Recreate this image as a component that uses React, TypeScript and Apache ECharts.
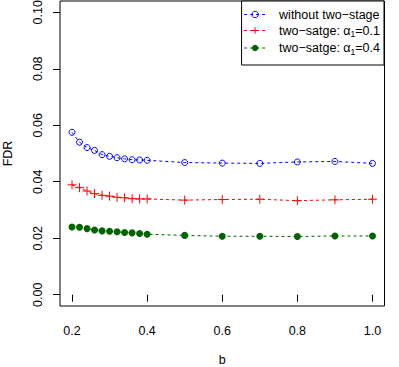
import React, { useEffect, useRef } from "react";
import * as echarts from "echarts";

const bValues = [0.2, 0.22, 0.24, 0.26, 0.28, 0.3, 0.32, 0.34, 0.36, 0.38, 0.4, 0.5, 0.6, 0.7, 0.8, 0.9, 1.0];
const withoutTwoStage = [0.0575, 0.054, 0.0521, 0.0511, 0.0496, 0.049, 0.0485, 0.0481, 0.0478, 0.0477, 0.0476, 0.0468, 0.0466, 0.0465, 0.047, 0.0472, 0.0465];
const twoStage01 = [0.0389, 0.0379, 0.0367, 0.0358, 0.0352, 0.0349, 0.0345, 0.0343, 0.034, 0.0339, 0.0339, 0.0335, 0.0337, 0.0338, 0.0333, 0.0336, 0.0338];
const twoStage04 = [0.024, 0.0239, 0.0234, 0.0229, 0.0226, 0.0225, 0.0223, 0.022, 0.0219, 0.0217, 0.0214, 0.021, 0.0207, 0.0207, 0.0206, 0.0208, 0.0208];
const xTicks = [0.2, 0.4, 0.6, 0.8, 1.0];
const yTicks = [0, 0.02, 0.04, 0.06, 0.08, 0.1];
const seriesNames = ["without two\u2212stage", "two\u2212satge: \u03b1{sub|1}=0.1", "two\u2212satge: \u03b1{sub|1}=0.4"];

const FONT = "'Liberation Sans', Arial, sans-serif";
const FS = 12.5;

export default function App() {
  const ref = useRef<HTMLDivElement>(null);
  useEffect(() => {
    if (!ref.current) return;
    const chart = echarts.init(ref.current, null, { renderer: "svg" });
    const pair = (ys: number[]) => bValues.map((b, i) => [b, ys[i]]);
    chart.setOption({
      animation: false,
      backgroundColor: "#fff",
      grid: {
        left: 60,
        right: 14.5,
        top: 1,
        bottom: 61,
        show: true,
        borderColor: "#000",
        borderWidth: 1,
        containLabel: false,
        outerBoundsMode: "none",
      },
      legend: {
        orient: "vertical",
        right: 15,
        top: 1,
        backgroundColor: "#fff",
        borderColor: "#000",
        borderWidth: 1,
        borderRadius: 0,
        padding: [7, 4, 9, 2],
        itemGap: 3,
        itemWidth: 22,
        itemHeight: 8,
        data: seriesNames,
        lineStyle: { width: 1 },
        itemStyle: { borderWidth: 1 },
        textStyle: {
          fontFamily: FONT,
          fontSize: FS,
          color: "#000",
          padding: [0, 0, 0, 8],
          rich: {
            sub: { fontSize: 8.5, fontFamily: FONT, color: "#000", padding: [7, 0, 0, 0] },
          },
        },
      },
      xAxis: {
        type: "value",
        min: 0.168,
        max: 1.032,
        name: "b",
        nameLocation: "middle",
        nameGap: 48,
        nameTextStyle: { fontFamily: FONT, fontSize: FS, color: "#000", lineHeight: 12 },
        splitLine: { show: false },
        axisLine: { show: false },
        axisTick: { show: true, length: 7, lineStyle: { color: "#000" }, customValues: xTicks },
        axisLabel: {
          customValues: xTicks,
          margin: 18,
          fontFamily: FONT,
          fontSize: FS,
          color: "#000",
          formatter: (v: number) => v.toFixed(1),
        },
      },
      yAxis: {
        type: "value",
        min: -0.004,
        max: 0.104,
        name: "FDR",
        nameLocation: "middle",
        nameGap: 46,
        nameTextStyle: { fontFamily: FONT, fontSize: FS, color: "#000" },
        splitLine: { show: false },
        axisLine: { show: false },
        axisTick: { show: true, length: 7, lineStyle: { color: "#000" }, customValues: yTicks },
        axisLabel: {
          customValues: yTicks,
          rotate: 90,
          margin: 16,
          fontFamily: FONT,
          fontSize: FS,
          color: "#000",
          formatter: (v: number) => v.toFixed(2),
        },
      },
      series: [
        {
          name: seriesNames[0],
          type: "line",
          data: pair(withoutTwoStage),
          symbol: "circle",
          symbolSize: 6,
          color: "#0000ff",
          lineStyle: { color: "#0000ff", width: 1, type: [3, 3] },
          itemStyle: { color: "rgba(255,255,255,0)", borderColor: "#0000ff", borderWidth: 1 },
        },
        {
          name: seriesNames[1],
          type: "line",
          data: pair(twoStage01),
          symbol: "path://M5,0 L5,10 M0,5 L10,5",
          symbolSize: 9,
          color: "#ff0000",
          lineStyle: { color: "#ff0000", width: 1, type: [3, 3] },
          itemStyle: { color: "#ff0000", borderColor: "#ff0000", borderWidth: 1 },
        },
        {
          name: seriesNames[2],
          type: "line",
          data: pair(twoStage04),
          symbol: "circle",
          symbolSize: 7,
          color: "#006400",
          lineStyle: { color: "#006400", width: 1, type: [3, 3] },
          itemStyle: { color: "#006400" },
        },
      ],
    });
    return () => chart.dispose();
  }, []);
  return <div ref={ref} style={{ width: 399, height: 367, position: "absolute", left: 0, top: 0 }} />;
}
